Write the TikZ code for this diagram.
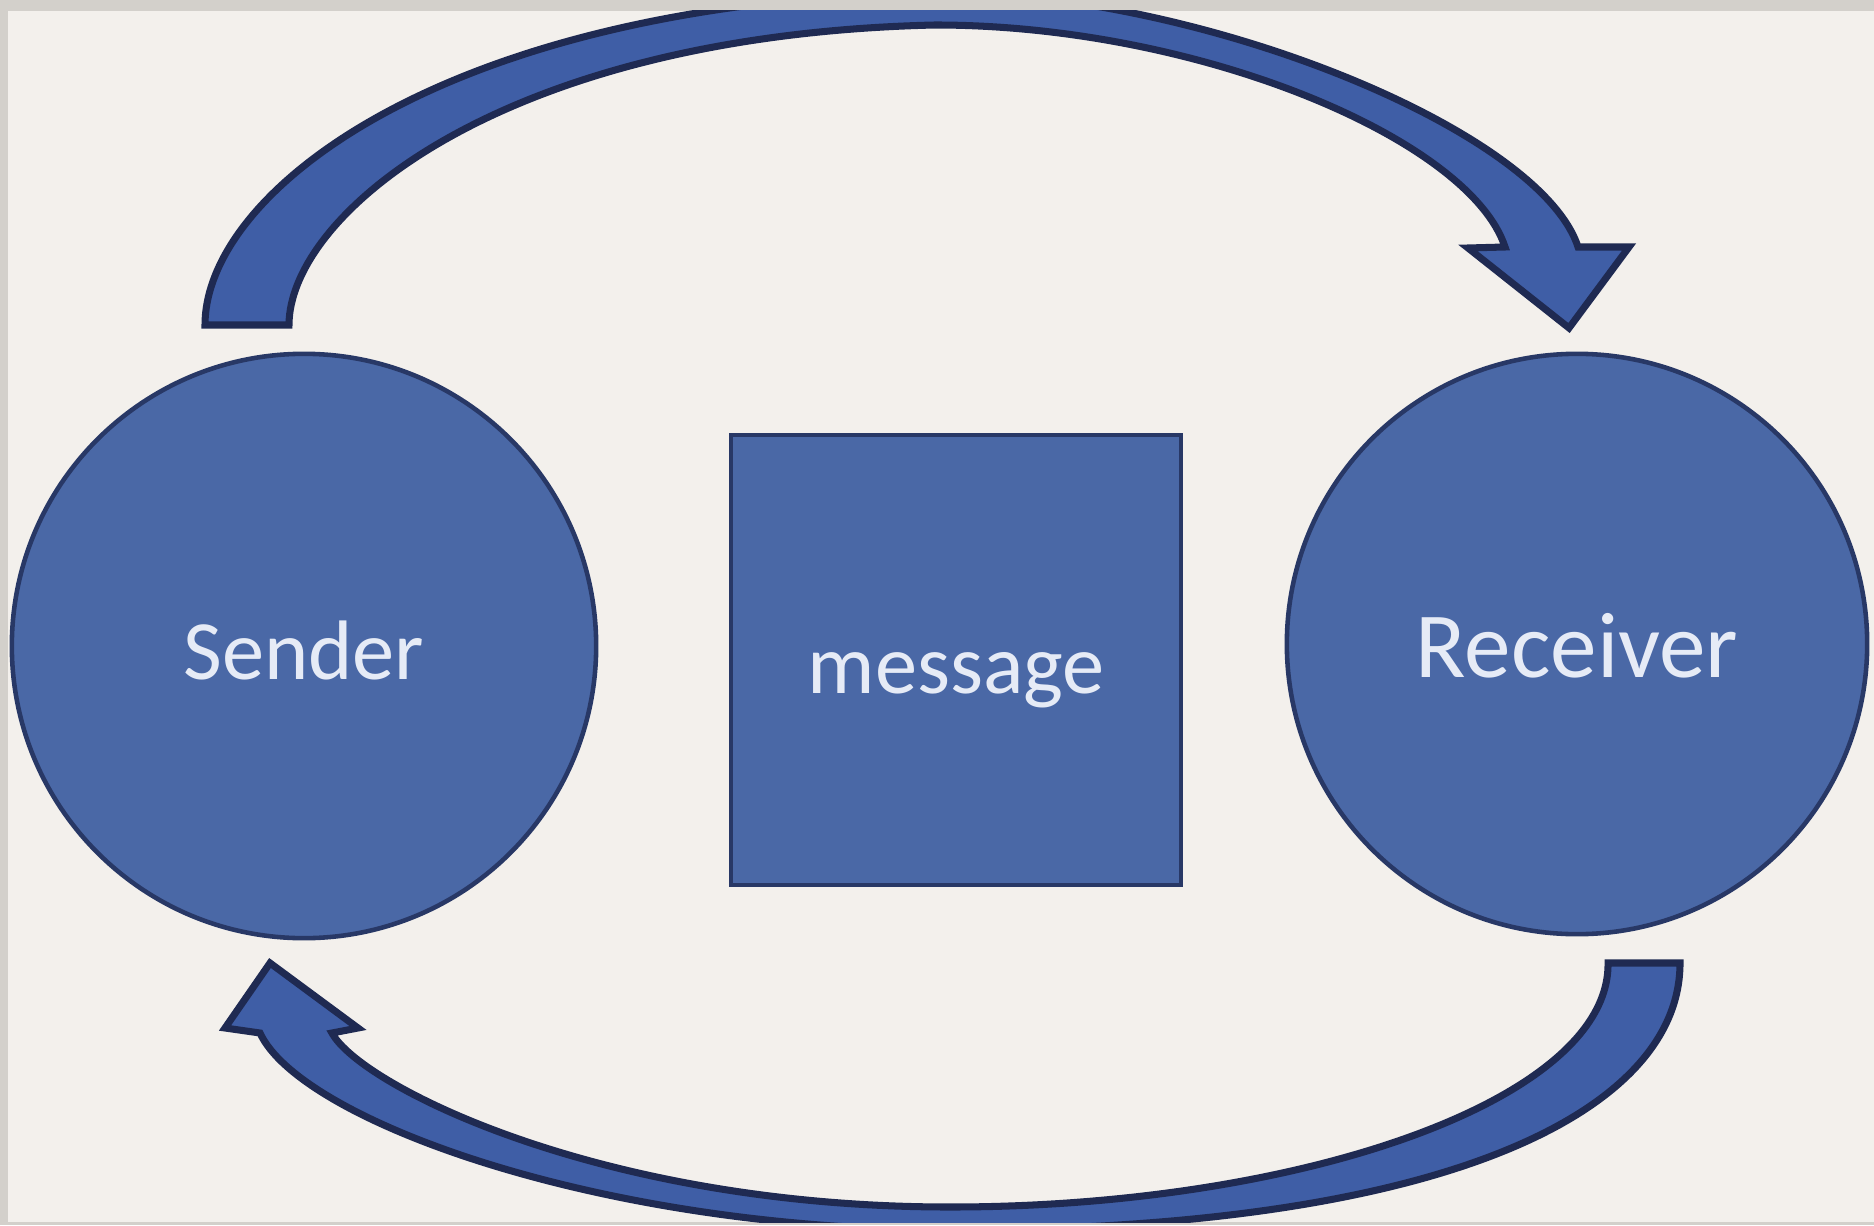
\documentclass[tikz,border=0pt]{standalone}
\usepackage{fontspec}
\setmainfont{Carlito}
\definecolor{framegrey}{HTML}{D3D0CB}
\definecolor{paper}{HTML}{F3F0EC}
\definecolor{shapeblue}{HTML}{4A68A6}
\definecolor{arrowblue}{HTML}{3F5EA6}
\definecolor{edgenavy}{HTML}{283866}
\definecolor{arrowedge}{HTML}{1F2A52}
\definecolor{textwhite}{HTML}{E6EBF6}
\tikzset{
  party/.style={circle, fill=shapeblue, draw=edgenavy, line width=1.3pt,
    minimum size=5.84cm, inner sep=0pt, text=textwhite,
    font=\fontsize{24}{29}\selectfont, text height=0.66cm, text depth=0pt},
  msgbox/.style={rectangle, fill=shapeblue, draw=edgenavy, line width=1.3pt,
    minimum size=4.5cm, inner sep=0pt, text=textwhite,
    font=\fontsize{24}{29}\selectfont, text height=0.66cm, text depth=0pt},
  blockarrow/.style={fill=arrowblue, draw=arrowedge, line width=2pt, line join=miter}
}
\begin{document}
\begin{tikzpicture}[x=0.01cm, y=-0.01cm]
\useasboundingbox (0,0) rectangle (1874,1225);
\fill[framegrey] (0,0) rectangle (1874,1225);
\fill[paper] (8,11) rectangle (1874,1222);

\begin{scope}
\clip (8,11) rectangle (1874,1222);
% top arrow: Sender -> Receiver
\path[blockarrow] (205,325) .. controls (205,190) and (450,0) .. (940,-8)
  .. controls (1200,-8) and (1540,130) .. (1578,247)
  -- (1629,247) -- (1569,328) -- (1468,248) -- (1505,247)
  .. controls (1470,140) and (1200,25) .. (935,25)
  .. controls (500,35) and (289,215) .. (289,325) -- cycle;
% bottom arrow: Receiver -> Sender
\path[blockarrow] (1680,963) .. controls (1680,1110) and (1450,1230) .. (950,1230)
  .. controls (600,1230) and (300,1120) .. (260,1033)
  -- (225,1028) -- (270,963) -- (358,1028) -- (332,1033)
  .. controls (360,1085) and (600,1207) .. (950,1207)
  .. controls (1300,1207) and (1610,1100) .. (1608,963) -- cycle;
\end{scope}

\node[party] (sender) at (304,646) {Sender};
\node[party, minimum size=5.8cm, font=\fontsize{26.5}{31}\selectfont] (receiver) at (1577,644) {Receiver};
\node[msgbox] (message) at (956,660) {message};
\end{tikzpicture}
\end{document}
